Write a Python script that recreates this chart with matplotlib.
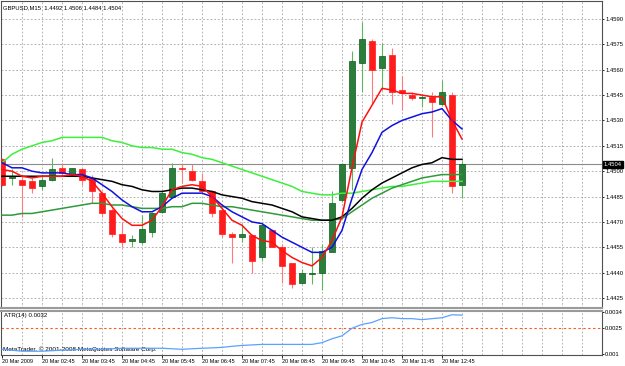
#%%
# =============== GBPUSD M15 chart, MetaTrader style
import matplotlib
matplotlib.use('Agg')
import matplotlib.pyplot as plt
import numpy as np

plt.rcParams['font.family'] = ['Liberation Sans', 'DejaVu Sans']

symbol_title = 'GBPUSD,M15  1.4492 1.4506 1.4484 1.4504'
atr_title = 'ATR(14) 0.0032'
copyright_txt = 'MetaTrader, \u00a9 2001-2008 MetaQuotes Software Corp.'

time_labels = ['20 Mar 2009', '20 Mar 02:45', '20 Mar 03:45', '20 Mar 04:45',
               '20 Mar 05:45', '20 Mar 06:45', '20 Mar 07:45', '20 Mar 08:45',
               '20 Mar 09:45', '20 Mar 10:45', '20 Mar 11:45', '20 Mar 12:45']

opens  = [1.4507, 1.4496, 1.4495, 1.4494, 1.4491, 1.4495, 1.4502, 1.4498, 1.4501, 1.4496,
          1.4487, 1.4477, 1.4463, 1.4459, 1.4458, 1.4464, 1.4476, 1.4485, 1.4502, 1.4500,
          1.4494, 1.4488, 1.4477, 1.4463, 1.4461, 1.4462, 1.4449, 1.4465, 1.4455, 1.4446,
          1.4434, 1.4439, 1.4440, 1.4452, 1.4483, 1.4502, 1.4564, 1.4577, 1.4561, 1.4569,
          1.4548, 1.4545, 1.4543, 1.4544, 1.4540, 1.4545, 1.4492]
highs  = [1.4508, 1.4501, 1.4497, 1.4496, 1.4497, 1.4508, 1.4505, 1.4502, 1.4502, 1.4498,
          1.4488, 1.4478, 1.4470, 1.4462, 1.4474, 1.4476, 1.4488, 1.4505, 1.4504, 1.4504,
          1.4499, 1.4489, 1.4478, 1.4464, 1.4469, 1.4463, 1.4468, 1.4466, 1.4457, 1.4446,
          1.4442, 1.4455, 1.4457, 1.4488, 1.4505, 1.4571, 1.4588, 1.4578, 1.4576, 1.4573,
          1.4556, 1.4547, 1.4545, 1.4547, 1.4554, 1.4547, 1.4506]
lows   = [1.4491, 1.4492, 1.4473, 1.4487, 1.4489, 1.4494, 1.4497, 1.4497, 1.4492, 1.4481,
          1.4473, 1.4461, 1.4455, 1.4455, 1.4457, 1.4461, 1.4475, 1.4484, 1.4493, 1.4494,
          1.4487, 1.4473, 1.4461, 1.4446, 1.4458, 1.4440, 1.4447, 1.4455, 1.4434, 1.4431,
          1.4433, 1.4433, 1.4430, 1.4452, 1.4482, 1.4489, 1.4547, 1.4540, 1.4548, 1.4540,
          1.4536, 1.4542, 1.4538, 1.4520, 1.4539, 1.4487, 1.4484]
closes = [1.4492, 1.4497, 1.4492, 1.4490, 1.4495, 1.4501, 1.4499, 1.4502, 1.4495, 1.4488,
          1.4475, 1.4463, 1.4458, 1.4460, 1.4466, 1.4475, 1.4487, 1.4502, 1.4501, 1.4495,
          1.4488, 1.4475, 1.4463, 1.4461, 1.4463, 1.4447, 1.4468, 1.4455, 1.4444, 1.4433,
          1.4440, 1.4440, 1.4453, 1.4481, 1.4504, 1.4565, 1.4578, 1.4560, 1.4568, 1.4547,
          1.4546, 1.4543, 1.4544, 1.4541, 1.4547, 1.4491, 1.4504]

ma_red   = [1.4501, 1.4500, 1.4497, 1.4496, 1.4497, 1.4497, 1.4497, 1.4498, 1.4497, 1.4494,
            1.4487, 1.4479, 1.4472, 1.4468, 1.4468, 1.4471, 1.4479, 1.4489, 1.4491, 1.4492,
            1.4491, 1.4485, 1.4478, 1.4471, 1.4468, 1.4462, 1.4459, 1.4458, 1.4453, 1.4449,
            1.4446, 1.4444, 1.4449, 1.4459, 1.4473, 1.4502, 1.4529, 1.4539, 1.4549, 1.4548,
            1.4546, 1.4546, 1.4545, 1.4544, 1.4544, 1.4530, 1.4519]
ma_blue  = [1.4505, 1.4502, 1.4502, 1.4500, 1.4499, 1.4499, 1.4499, 1.4498, 1.4498, 1.4496,
            1.4492, 1.4488, 1.4483, 1.4479, 1.4476, 1.4476, 1.4479, 1.4484, 1.4487, 1.4487,
            1.4487, 1.4485, 1.4480, 1.4476, 1.4473, 1.4470, 1.4469, 1.4465, 1.4461, 1.4458,
            1.4455, 1.4452, 1.4452, 1.4455, 1.4465, 1.4484, 1.4501, 1.4511, 1.4523, 1.4527,
            1.4530, 1.4532, 1.4534, 1.4535, 1.4537, 1.4530, 1.4525]
ma_black = [1.4497, 1.4497, 1.4497, 1.4497, 1.4497, 1.4497, 1.4497, 1.4497, 1.4497, 1.4496,
            1.4495, 1.4494, 1.4492, 1.4491, 1.4489, 1.4488, 1.4488, 1.4489, 1.4490, 1.4490,
            1.4489, 1.4488, 1.4486, 1.4485, 1.4484, 1.4482, 1.4481, 1.4480, 1.4478, 1.4476,
            1.4473, 1.4472, 1.4471, 1.4471, 1.4473, 1.4478, 1.4484, 1.4489, 1.4493, 1.4496,
            1.4499, 1.4502, 1.4504, 1.4505, 1.4508, 1.4507, 1.4507]
ma_dkgreen = [1.4474, 1.4474, 1.4475, 1.4475, 1.4476, 1.4477, 1.4478, 1.4479, 1.4480, 1.4481,
              1.4481, 1.4480, 1.4480, 1.4479, 1.4478, 1.4478, 1.4478, 1.4479, 1.4479, 1.4481,
              1.4481, 1.4480, 1.4479, 1.4479, 1.4478, 1.4477, 1.4476, 1.4475, 1.4474, 1.4473,
              1.4472, 1.4471, 1.4471, 1.4471, 1.4472, 1.4476, 1.4480, 1.4484, 1.4487, 1.4490,
              1.4492, 1.4494, 1.4496, 1.4497, 1.4498, 1.4498, 1.4498]
ma_ltgreen = [1.4505, 1.4510, 1.4513, 1.4515, 1.4517, 1.4518, 1.4520, 1.4520, 1.4520, 1.4520,
              1.4520, 1.4518, 1.4517, 1.4515, 1.4514, 1.4514, 1.4513, 1.4513, 1.4511, 1.4510,
              1.4508, 1.4507, 1.4505, 1.4503, 1.4501, 1.4499, 1.4497, 1.4495, 1.4493, 1.4491,
              1.4488, 1.4487, 1.4486, 1.4486, 1.4487, 1.4487, 1.4488, 1.4489, 1.4490, 1.4491,
              1.4491, 1.4492, 1.4493, 1.4494, 1.4494, 1.4494, 1.4494]

atr14 = [0.00127, 0.00122, 0.00116, 0.00116, 0.00116, 0.00119, 0.00122, 0.00124, 0.00127, 0.00127,
         0.00127, 0.00130, 0.00133, 0.00133, 0.00133, 0.00133, 0.00133, 0.00130, 0.00127, 0.00130,
         0.00133, 0.00135, 0.00138, 0.00144, 0.00149, 0.00152, 0.00155, 0.00155, 0.00155, 0.00155,
         0.00155, 0.00155, 0.00165, 0.00187, 0.00204, 0.00247, 0.00269, 0.00280, 0.00302, 0.00307,
         0.00302, 0.00302, 0.00296, 0.00302, 0.00307, 0.00324, 0.00322]

price_ticks = [1.4425, 1.4440, 1.4455, 1.4470, 1.4485, 1.4500,
               1.4515, 1.4530, 1.4545, 1.4560, 1.4575, 1.4590]
atr_ticks = [0.001, 0.0025, 0.0034]
atr_tick_labels = ['0.001', '0.0025', '0.0034']
last_price = 1.4504
atr_level = 0.0025

#%%
W, H = 625, 366
fs = 4.2
grid_kw = dict(color='#a8a8a8', lw=0.6, ls=(0, (2.2, 2.2)))

fig = plt.figure(figsize=(W / 100, H / 100), dpi=100)
ax = fig.add_axes([1 / W, 58 / H, 601 / W, 307 / H])
ax2 = fig.add_axes([1 / W, 11 / H, 601 / W, 44 / H])

o = np.array(opens); c = np.array(closes)
hi = np.array(highs); lo = np.array(lows)
idx = np.arange(len(o))
up = c >= o

# grid
vgrid = np.arange(2, 60, 2)
for a in (ax, ax2):
    a.vlines(vgrid, 0, 1, transform=a.get_xaxis_transform(), zorder=0, **grid_kw)
    a.set_xlim(-0.1, 60.0)
for p in price_ticks:
    ax.axhline(p, zorder=0, **grid_kw)

# current price line
ax.axhline(last_price, color='#8c8c8c', lw=0.8, zorder=1)

# candles
wick_col = np.where(up, '#5cb85c', '#ff7a7a')
body_col = np.where(up, '#2b7d3a', '#ff1c1c')
edge_col = np.where(up, '#0b5a1c', '#ff1c1c')
ax.vlines(idx, lo, hi, colors=wick_col, lw=0.8, zorder=2)
body_h = np.maximum(np.abs(c - o), 0.00007)
ax.bar(idx, body_h, bottom=np.minimum(o, c), width=0.62, color=body_col,
       edgecolor=edge_col, lw=0.5, zorder=3)

# moving averages
ax.plot(idx, ma_ltgreen, color='#3cf03c', lw=1.1, zorder=4)
ax.plot(idx, ma_dkgreen, color='#2f9a3a', lw=1.1, zorder=4)
ax.plot(idx, ma_black, color='black', lw=1.1, zorder=4)
ax.plot(idx, ma_blue, color='#1010e0', lw=1.1, zorder=4)
ax.plot(idx, ma_red, color='#ff1010', lw=1.1, zorder=4)

ax.set_ylim(1.4590 - 289 / 16910, 1.4590 + 18 / 16910)
ax.set_yticks(price_ticks)
ax.set_yticklabels([f'{p:.4f}' for p in price_ticks])
ax.yaxis.tick_right()
ax.set_xticks([])
ax.tick_params(axis='y', direction='out', length=1.5, width=0.6, pad=0.8, labelsize=fs)

ax.text(1.003, last_price, f'{last_price:.4f}', transform=ax.get_yaxis_transform(),
        ha='left', va='center', fontsize=fs, color='white', zorder=6, clip_on=False,
        bbox=dict(boxstyle='square,pad=0.15', facecolor='black', edgecolor='black'))
fig.text(3 / W, 1 - 7.5 / H, symbol_title, fontsize=fs, ha='left', va='center')

# ATR sub-window
ax2.plot(idx, atr14, color='#5aa2ff', lw=0.9, zorder=3)
ax2.axhline(atr_level, color='#ff5a1e', lw=0.8, ls=(0, (2.2, 2.2)), zorder=2)
ax2.set_ylim(0.0034 - 45 / 18330, 0.0034 + 1 / 18330)
ax2.set_yticks(atr_ticks)
ax2.set_yticklabels(atr_tick_labels)
ax2.yaxis.tick_right()
ax2.set_xticks(np.arange(0, 4 * len(time_labels), 4))
ax2.set_xticklabels(time_labels, ha='left')
ax2.tick_params(axis='y', direction='out', length=1.5, width=0.6, pad=0.8, labelsize=fs)
ax2.tick_params(axis='x', direction='out', length=2, width=0.6, pad=1, labelsize=4.0)
ax2.text(3 / 601, 1 - 5 / 44, atr_title, transform=ax2.transAxes, fontsize=4.4,
         ha='left', va='center')
ax2.text(2 / 601, 6 / 44, copyright_txt, transform=ax2.transAxes, fontsize=4.6,
         ha='left', va='center', zorder=2)

for a in (ax, ax2):
    for s in a.spines.values():
        s.set_color('#505050')
        s.set_linewidth(0.8)
ax.spines['bottom'].set_color('#9a9a9a')
ax.spines['bottom'].set_linewidth(1.5)
ax2.spines['top'].set_color('#9a9a9a')
ax2.spines['top'].set_linewidth(1.5)

fig.savefig('out.png', dpi=100)
